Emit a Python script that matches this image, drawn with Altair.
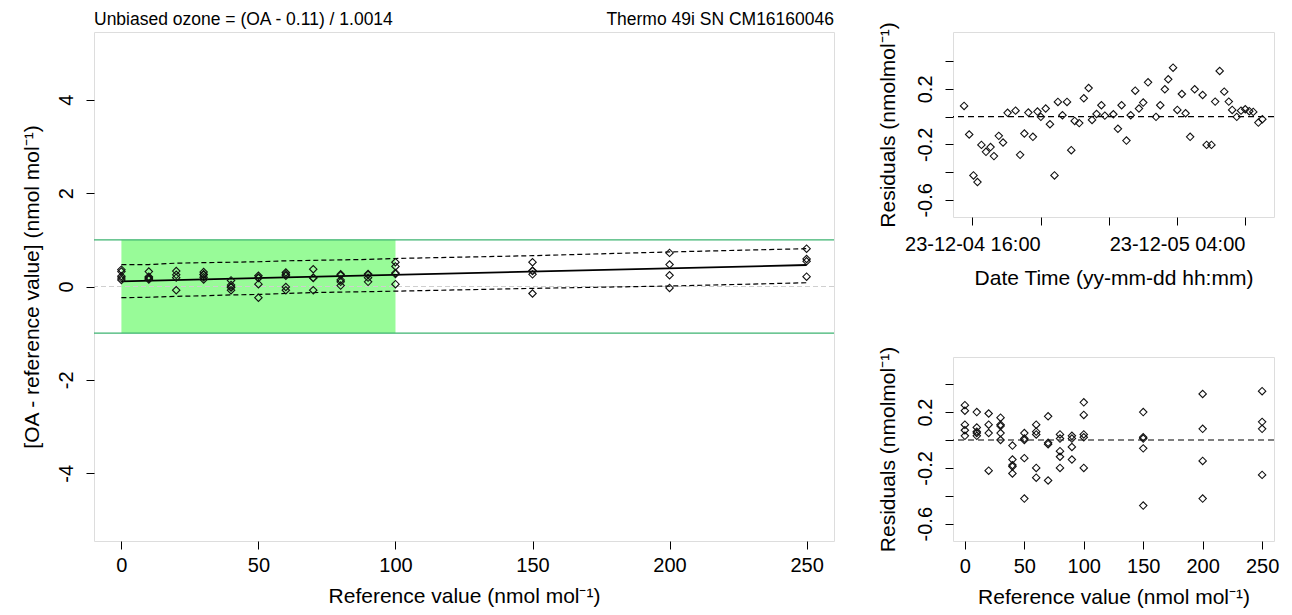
import altair as alt
import pandas as pd

FONT = "Liberation Sans"

# ---------------- data ----------------
header_left = "Unbiased ozone = (OA - 0.11) / 1.0014"
header_right = "Thermo 49i SN CM16160046"

ref_value = [0, 0, 0, 0, 0, 10, 10, 10, 10, 10, 20, 20, 20, 20,
             30, 30, 30, 30, 30, 40, 40, 40, 40, 40, 50, 50, 50, 50, 50,
             60, 60, 60, 60, 60, 70, 70, 70, 70, 80, 80, 80, 80, 80,
             90, 90, 90, 90, 100, 100, 100, 100, 100,
             150, 150, 150, 150, 150, 200, 200, 200, 200, 250, 250, 250, 250]
oa_minus_ref = [0.36, 0.32, 0.22, 0.18, 0.14, 0.32, 0.21, 0.19, 0.17, 0.15,
                0.33, 0.25, 0.19, -0.08, 0.31, 0.26, 0.25, 0.20, 0.15,
                0.13, 0.03, -0.01, -0.02, -0.08, 0.23, 0.19, 0.18, 0.05, -0.24,
                0.30, 0.26, 0.23, -0.01, -0.08, 0.37, 0.19, 0.18, -0.08,
                0.26, 0.24, 0.14, 0.10, 0.02, 0.27, 0.25, 0.19, 0.10,
                0.52, 0.43, 0.29, 0.27, 0.05, 0.52, 0.34, 0.33, 0.26, -0.15,
                0.72, 0.47, 0.24, -0.03, 0.81, 0.59, 0.54, 0.21]
residual_by_ref = [0.25, 0.21, 0.11, 0.07, 0.03, 0.20, 0.09, 0.06, 0.05, 0.03,
                   0.19, 0.11, 0.05, -0.22, 0.16, 0.11, 0.10, 0.05, 0.00,
                   -0.04, -0.14, -0.18, -0.19, -0.24, 0.05, 0.01, 0.00, -0.13, -0.42,
                   0.11, 0.06, 0.04, -0.20, -0.27, 0.17, -0.02, -0.03, -0.29,
                   0.04, 0.01, -0.08, -0.12, -0.20, 0.03, 0.01, -0.05, -0.14,
                   0.27, 0.18, 0.04, 0.02, -0.20, 0.20, 0.02, 0.01, -0.06, -0.47,
                   0.33, 0.08, -0.15, -0.42, 0.35, 0.13, 0.08, -0.25]

fit_ref = [0, 250]
fit_diff = [0.11, 0.46]

band_ref = [0, 10, 20, 30, 40, 50, 60, 70, 80, 90, 100, 150, 200, 250]
band_upper = [0.47, 0.47, 0.50, 0.51, 0.52, 0.53, 0.55, 0.56, 0.57, 0.58, 0.60, 0.66, 0.74, 0.81]
band_lower = [-0.24, -0.23, -0.21, -0.20, -0.18, -0.17, -0.15, -0.13, -0.12, -0.11, -0.10, -0.04, 0.01, 0.08]

tolerance_range = [0, 100]
tolerance_limits = [-1, 1]

ts_time = ["2023-12-04 15:31", "2023-12-04 15:49", "2023-12-04 16:04", "2023-12-04 16:18",
           "2023-12-04 16:32", "2023-12-04 16:48", "2023-12-04 17:04", "2023-12-04 17:16",
           "2023-12-04 17:33", "2023-12-04 17:48", "2023-12-04 18:04", "2023-12-04 18:32",
           "2023-12-04 18:48", "2023-12-04 19:03", "2023-12-04 19:17", "2023-12-04 19:33",
           "2023-12-04 19:49", "2023-12-04 20:01", "2023-12-04 20:18", "2023-12-04 20:33",
           "2023-12-04 20:49", "2023-12-04 21:01", "2023-12-04 21:17", "2023-12-04 21:33",
           "2023-12-04 21:48", "2023-12-04 22:00", "2023-12-04 22:16", "2023-12-04 22:32",
           "2023-12-04 22:49", "2023-12-04 23:01", "2023-12-04 23:17", "2023-12-04 23:34",
           "2023-12-04 23:46", "2023-12-05 00:16", "2023-12-05 00:32", "2023-12-05 00:45",
           "2023-12-05 01:02", "2023-12-05 01:17", "2023-12-05 01:33", "2023-12-05 01:46",
           "2023-12-05 02:01", "2023-12-05 02:18", "2023-12-05 02:46", "2023-12-05 03:01",
           "2023-12-05 03:17", "2023-12-05 03:29", "2023-12-05 03:46", "2023-12-05 04:01",
           "2023-12-05 04:17", "2023-12-05 04:30", "2023-12-05 04:46", "2023-12-05 05:02",
           "2023-12-05 05:30", "2023-12-05 05:44", "2023-12-05 06:01", "2023-12-05 06:14",
           "2023-12-05 06:30", "2023-12-05 06:46", "2023-12-05 07:02", "2023-12-05 07:14",
           "2023-12-05 07:30", "2023-12-05 07:45", "2023-12-05 08:00", "2023-12-05 08:14",
           "2023-12-05 08:28", "2023-12-05 08:46", "2023-12-05 09:00"]
ts_resid = [0.077, -0.129, -0.424, -0.472, -0.204, -0.254, -0.220, -0.285,
            -0.139, -0.187, 0.027, 0.043, -0.276, -0.122, 0.029, -0.146,
            0.036, -0.002, 0.058, -0.055, -0.424, 0.106, 0.010, 0.106,
            -0.242, -0.031, -0.047, 0.132, 0.206, -0.024, 0.019, 0.082,
            0.007, 0.017, -0.088, 0.082, -0.173, 0.010, 0.187, 0.058,
            0.101, 0.247, -0.002, 0.082, 0.197, 0.269, 0.353, 0.048,
            0.163, 0.024, -0.146, 0.197, 0.156, -0.204, -0.204, 0.108,
            0.329, 0.180, 0.108, 0.048, -0.002, 0.043, 0.053, 0.039,
            0.034, -0.043, -0.019]

# ---------------- frames ----------------
main_df = pd.DataFrame({"ref": ref_value, "diff": oa_minus_ref})
resid_df = pd.DataFrame({"ref": ref_value, "resid": residual_by_ref})
fit_df = pd.DataFrame({"ref": fit_ref, "diff": fit_diff})
band_df = pd.DataFrame({"ref": band_ref, "upper": band_upper, "lower": band_lower})
tol_df = pd.DataFrame({"x0": [tolerance_range[0]], "x1": [tolerance_range[1]],
                       "y0": [tolerance_limits[0]], "y1": [tolerance_limits[1]]})
lim_df = pd.DataFrame({"lim": tolerance_limits})
zero_df = pd.DataFrame({"z": [0]})
ts_df = pd.DataFrame({"time": pd.to_datetime(ts_time), "resid": ts_resid})
head_df = pd.DataFrame({"left": [header_left], "right": [header_right]})

# ---------------- shared styles ----------------
AX = dict(domain=False, grid=False, ticks=True, tickColor="#000", tickSize=8, tickWidth=1,
          labelFont=FONT, labelFontSize=20, labelColor="#000",
          titleFont=FONT, titleFontSize=21, titleFontWeight="normal", titleColor="#000")

neg = "(datum.value < 0 ? '-' : '') + format(abs(datum.value), '{f}')"
PT = dict(shape="diamond", filled=False, color="#111", size=55, strokeWidth=1.1, opacity=1)

# ---------------- main panel ----------------
xs = alt.Scale(domain=[-10, 260], nice=False, zero=False)
ys = alt.Scale(domain=[-5.45, 5.45], nice=False, zero=False)
x_ax = alt.Axis(values=[0, 50, 100, 150, 200, 250], title="Reference value (nmol mol\u207b\u00b9)",
                labelPadding=6, titlePadding=10, **AX)
y_ax = alt.Axis(values=[-4, -2, 0, 2, 4], title="[OA - reference value] (nmol mol\u207b\u00b9)",
                labelAngle=-90, labelAlign="center", labelBaseline="bottom",
                labelExpr=neg.format(f="d"), labelPadding=10, titlePadding=14, **AX)

green = alt.Chart(tol_df).mark_rect(color="#98FB98").encode(
    x=alt.X("x0:Q", scale=xs, axis=x_ax), x2="x1:Q",
    y=alt.Y("y0:Q", scale=ys, axis=y_ax), y2="y1:Q")
lims = alt.Chart(lim_df).mark_rule(color="#3CB371", strokeWidth=1.3).encode(
    y=alt.Y("lim:Q", scale=ys, axis=y_ax))
zero_main = alt.Chart(zero_df).mark_rule(color="#cfcfcf", strokeDash=[5, 3], strokeWidth=1).encode(
    y=alt.Y("z:Q", scale=ys, axis=y_ax))
upper = alt.Chart(band_df).mark_line(color="#000", strokeDash=[5, 3], strokeWidth=1.2).encode(
    x=alt.X("ref:Q", scale=xs, axis=x_ax), y=alt.Y("upper:Q", scale=ys, axis=y_ax))
lower = alt.Chart(band_df).mark_line(color="#000", strokeDash=[5, 3], strokeWidth=1.2).encode(
    x=alt.X("ref:Q", scale=xs, axis=x_ax), y=alt.Y("lower:Q", scale=ys, axis=y_ax))
fit = alt.Chart(fit_df).mark_line(color="#000", strokeWidth=1.8).encode(
    x=alt.X("ref:Q", scale=xs, axis=x_ax), y=alt.Y("diff:Q", scale=ys, axis=y_ax))
pts = alt.Chart(main_df).mark_point(**PT).encode(
    x=alt.X("ref:Q", scale=xs, axis=x_ax), y=alt.Y("diff:Q", scale=ys, axis=y_ax))
head_l = alt.Chart(head_df).mark_text(font=FONT, fontSize=17.5, align="left",
                                      baseline="alphabetic", color="#000").encode(
    x=alt.value(0), y=alt.value(-7), text="left:N")
head_r = alt.Chart(head_df).mark_text(font=FONT, fontSize=17.5, align="right",
                                      baseline="alphabetic", color="#000").encode(
    x=alt.value(740), y=alt.value(-7), text="right:N")

main = alt.layer(green, lims, zero_main, upper, lower, fit, pts, head_l, head_r).properties(
    width=740, height=509)

# ---------------- residual panels ----------------
rs_top = alt.Scale(domain=[-0.724, 0.61], nice=False, zero=False)
rs_bot = alt.Scale(domain=[-0.724, 0.595], nice=False, zero=False)
r_labels = ("abs(datum.value - 0.2) < 0.01 || abs(datum.value + 0.2) < 0.01 || "
            "abs(datum.value + 0.6) < 0.01 ? " + neg.format(f=".1f") + " : ''")
r_yax = alt.Axis(values=[-0.6, -0.4, -0.2, 0, 0.2, 0.4], title="Residuals (nmolmol\u207b\u00b9)",
                 labelAngle=-90, labelAlign="center", labelBaseline="bottom",
                 labelExpr=r_labels, labelPadding=10, titlePadding=17, **AX)

t_dom = [alt.DateTime(year=2023, month=12, date=4, hours=14, minutes=52),
         alt.DateTime(year=2023, month=12, date=5, hours=9, minutes=41)]
t_ticks = [alt.DateTime(year=2023, month=12, date=4, hours=16),
           alt.DateTime(year=2023, month=12, date=4, hours=20),
           alt.DateTime(year=2023, month=12, date=5, hours=0),
           alt.DateTime(year=2023, month=12, date=5, hours=4),
           alt.DateTime(year=2023, month=12, date=5, hours=8)]
t_ax = alt.Axis(values=t_ticks, title="Date Time (yy-mm-dd hh:mm)",
                labelExpr="hours(datum.value) == 16 || hours(datum.value) == 4 ? "
                          "timeFormat(datum.value, '%y-%m-%d %H:%M') : ''",
                labelPadding=9, titlePadding=13, **AX)
ts_x = alt.Scale(domain=t_dom, nice=False)

top_pts = alt.Chart(ts_df).mark_point(**PT).encode(
    x=alt.X("time:T", scale=ts_x, axis=t_ax), y=alt.Y("resid:Q", scale=rs_top, axis=r_yax))
top_zero = alt.Chart(zero_df).mark_rule(color="#000", strokeDash=[6, 4], strokeWidth=1.2).encode(
    y=alt.Y("z:Q", scale=rs_top, axis=r_yax))
top = alt.layer(top_zero, top_pts).properties(width=321, height=185)

b_xs = alt.Scale(domain=[-10, 260], nice=False, zero=False)
b_xax = alt.Axis(values=[0, 50, 100, 150, 200, 250], title="Reference value (nmol mol\u207b\u00b9)",
                 labelPadding=7, titlePadding=10, **AX)
bot_pts = alt.Chart(resid_df).mark_point(**PT).encode(
    x=alt.X("ref:Q", scale=b_xs, axis=b_xax), y=alt.Y("resid:Q", scale=rs_bot, axis=r_yax))
bot_zero = alt.Chart(zero_df).mark_rule(color="#000", strokeDash=[6, 4], strokeWidth=1.2).encode(
    y=alt.Y("z:Q", scale=rs_bot, axis=r_yax))
bot = alt.layer(bot_zero, bot_pts).properties(width=321, height=184)

right = alt.vconcat(top, bot, spacing=140, bounds="flush")

chart = alt.hconcat(main, right, spacing=119, bounds="flush").properties(
    padding={"left": 12, "top": 2, "right": 0, "bottom": 0}
).configure_view(stroke="#333", strokeWidth=1).configure(background="white")

chart.save("out.html", embed_options={"renderer": "svg", "actions": False})
